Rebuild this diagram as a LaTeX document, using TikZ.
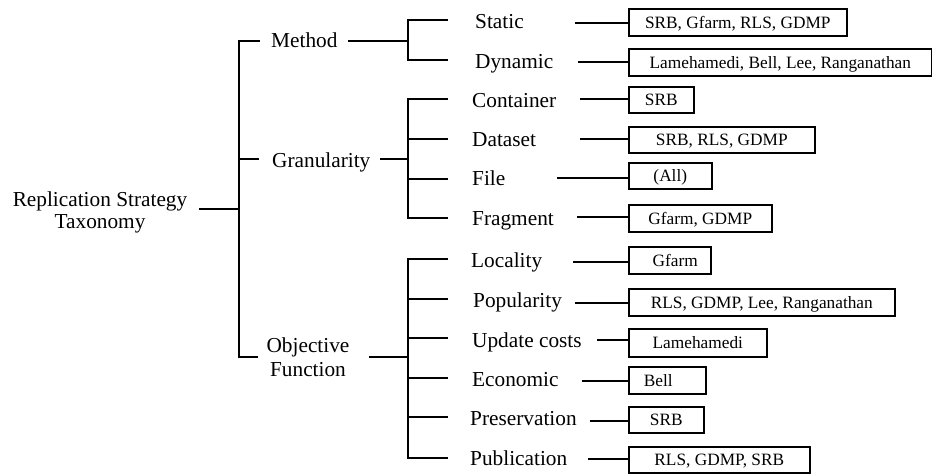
\documentclass[tikz,border=0pt]{standalone}
\usepackage{fontspec}
\setmainfont{Liberation Serif}
\begin{document}
\begin{tikzpicture}[x=1pt,y=-1pt,
  tree/.style={line width=1.8pt},
  link/.style={line width=1.5pt},
  lbl/.style={anchor=base west, inner sep=0pt, font=\fontsize{21.3}{22}\selectfont},
  toplbl/.style={anchor=center, inner sep=0pt, align=center},
  refbox/.style={draw, line width=1.6pt, anchor=west, inner sep=0pt,
    text height=11.5pt, text depth=0pt,
    minimum height=27pt, font=\fontsize{17.3}{20}\selectfont}]
\useasboundingbox (0,0) rectangle (932,474);

% ---- root and first level ----
\node[toplbl, font=\fontsize{21.3}{22}\selectfont] (root) at (100,212) {Replication Strategy\\Taxonomy};
\node[lbl] (method) at (271,47) {Method};
\node[lbl] (gran) at (272,167) {Granularity};
\node[toplbl, font=\fontsize{21.3}{24}\selectfont] (objf) at (308,357.7) {Objective\\Function};

\coordinate (r0) at (199,209);
\coordinate (r1) at (239,209);
\coordinate (rT) at (239,41);
\coordinate (rB) at (239,357);
\coordinate (rM) at (260,41);
\coordinate (rG0) at (239,159);
\coordinate (rG) at (259,159);
\coordinate (rO) at (258,357);
\draw[tree] (r0) -- (r1);
\draw[tree] (rM) -- (rT) -- (rB) -- (rO);
\draw[tree] (rG0) -- (rG);

% ---- Method subtree ----
\coordinate (m0) at (348,41);
\coordinate (m1) at (408,41);
\coordinate (mT) at (408,20);
\coordinate (mB) at (408,60);
\coordinate (mS) at (448,20);
\coordinate (mD) at (448,60);
\draw[tree] (m0) -- (m1);
\draw[tree] (mS) -- (mT) -- (mB) -- (mD);

% ---- Granularity subtree ----
\coordinate (g0) at (380,159);
\coordinate (g1) at (408,159);
\coordinate (gT) at (408,99);
\coordinate (gB) at (408,218);
\coordinate (gA) at (448,99);
\coordinate (gC0) at (408,139);
\coordinate (gC) at (448,139);
\coordinate (gF0) at (408,179);
\coordinate (gF) at (448,179);
\coordinate (gZ) at (448,218);
\draw[tree] (g0) -- (g1);
\draw[tree] (gA) -- (gT) -- (gB) -- (gZ);
\draw[tree] (gC0) -- (gC);
\draw[tree] (gF0) -- (gF);

% ---- Objective function subtree ----
\coordinate (o0) at (369,357);
\coordinate (o1) at (408,357);
\coordinate (oT) at (408,259);
\coordinate (oB) at (408,458);
\coordinate (oA) at (448,259);
\coordinate (oZ) at (448,458);
\draw[tree] (o0) -- (o1);
\draw[tree] (oA) -- (oT) -- (oB) -- (oZ);
\foreach \yy [count=\k] in {299,338,378,417} {
  \coordinate (oi\k) at (408,\yy);
  \coordinate (oe\k) at (448,\yy);
  \draw[tree] (oi\k) -- (oe\k);
}

% ---- leaf labels ----
\node[lbl] (static) at (475,28) {Static};
\node[lbl] (dynamic) at (475,68) {Dynamic};
\node[lbl] (container) at (472,107) {Container};
\node[lbl] (dataset) at (472,146) {Dataset};
\node[lbl] (file) at (472,185) {File};
\node[lbl] (fragment) at (472,225) {Fragment};
\node[lbl] (locality) at (471,267) {Locality};
\node[lbl] (popularity) at (473,307) {Popularity};
\node[lbl] (update) at (472,347) {Update costs};
\node[lbl] (economic) at (472,386) {Economic};
\node[lbl] (preserv) at (470,425) {Preservation};
\node[lbl] (publication) at (470,465) {Publication};

% ---- systems boxes ----
\node[refbox, minimum width=218pt] (b-static) at (628,22.5) {SRB, Gfarm, RLS, GDMP};
\node[refbox, minimum width=303pt] (b-dynamic) at (628,62.5) {Lamehamedi, Bell, Lee, Ranganathan};
\node[refbox, minimum width=65pt, minimum height=26pt] (b-container) at (628,100) {SRB};
\node[refbox, minimum width=186pt, minimum height=26pt] (b-dataset) at (628,140) {SRB, RLS, GDMP};
\node[refbox, minimum width=83pt, minimum height=26pt] (b-file) at (628,176) {(All)};
\node[refbox, minimum width=143pt] (b-fragment) at (628,218.5) {Gfarm, GDMP};
\node[refbox, minimum width=82pt] (b-locality) at (628,260.5) {\kern11pt Gfarm};
\node[refbox, minimum width=266pt] (b-popularity) at (628,302.5) {RLS, GDMP, Lee, Ranganathan};
\node[refbox, minimum width=138pt, minimum height=28pt] (b-update) at (628,343) {Lamehamedi};
\node[refbox, minimum width=77pt] (b-economic) at (628,380.5) {Bell\kern18pt};
\node[refbox, minimum width=75pt, minimum height=26pt] (b-preserv) at (628,420) {SRB};
\node[refbox, minimum width=181pt, minimum height=26pt] (b-publication) at (628,460) {RLS, GDMP, SRB};

% ---- label-to-box connectors ----
\foreach \nm/\xx/\yy in {static/575/23, dynamic/578/62, container/580/99,
    dataset/580/139, file/557/178, fragment/577/217, locality/573/262,
    popularity/575/303, update/597/340, economic/582/381, preserv/590/421,
    publication/588/459} {
  \coordinate (c-\nm) at (\xx,\yy);
  \draw[link] (c-\nm) -- (c-\nm -| b-\nm.west);
}
\end{tikzpicture}
\end{document}
